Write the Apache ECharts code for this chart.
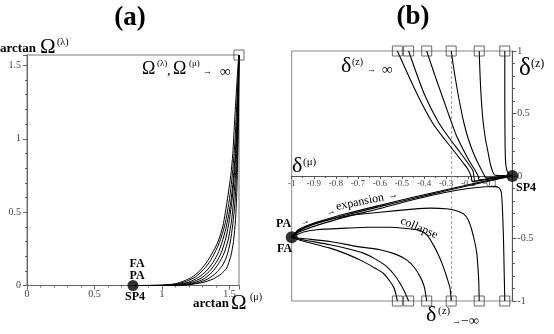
<!DOCTYPE html>
<html><head><meta charset="utf-8">
<script src="https://cdn.jsdelivr.net/npm/echarts@6/dist/echarts.min.js"></script>
<style>html,body{margin:0;padding:0;background:#fff}#c{width:554px;height:334px}</style>
</head><body><div id="c"></div>
<script>
// ---------- Panel (a) data: [arctan Ω(μ), arctan Ω(λ)] ----------
const HALF_PI = 1.5708;
const aFixedPoint = [[0.785, 0]];
const aInfinityPoint = [[HALF_PI, HALF_PI]];
const aCurve1 = [[0.785,0],[0.95,0],[1.0,0.002],[1.1,0.012],[1.16,0.03],[1.22,0.055],[1.28,0.1],[1.34,0.17],[1.39,0.25],[1.42,0.31],[1.45,0.4],[1.47,0.5],[1.49,0.62],[1.51,0.75],[1.525,0.9],[1.537,1.1],[1.55,1.3],[1.562,1.48],[1.5708,1.5708]];
const aCurve2 = [[0.785,0],[1.0,0.001],[1.1,0.009],[1.18,0.028],[1.25,0.06],[1.31,0.11],[1.36,0.17],[1.41,0.26],[1.44,0.33],[1.47,0.43],[1.49,0.53],[1.51,0.66],[1.525,0.79],[1.54,0.97],[1.55,1.15],[1.56,1.35],[1.5708,1.5708]];
const aCurve3 = [[0.785,0],[1.03,0.001],[1.12,0.008],[1.2,0.024],[1.27,0.055],[1.33,0.1],[1.38,0.16],[1.42,0.23],[1.46,0.34],[1.49,0.46],[1.51,0.57],[1.525,0.69],[1.54,0.86],[1.551,1.03],[1.559,1.2],[1.565,1.38],[1.5708,1.5708]];
const aCurve4 = [[0.785,0],[1.05,0.001],[1.14,0.007],[1.22,0.022],[1.29,0.05],[1.35,0.095],[1.4,0.155],[1.44,0.225],[1.475,0.33],[1.5,0.45],[1.52,0.59],[1.535,0.74],[1.547,0.9],[1.555,1.06],[1.562,1.24],[1.567,1.4],[1.5708,1.5708]];
const aCurve5 = [[0.785,0],[1.07,0.001],[1.16,0.006],[1.24,0.02],[1.31,0.045],[1.37,0.09],[1.42,0.15],[1.46,0.22],[1.49,0.31],[1.515,0.44],[1.53,0.57],[1.543,0.73],[1.553,0.9],[1.56,1.08],[1.565,1.26],[1.568,1.42],[1.5708,1.5708]];
const aCurve6 = [[0.785,0],[1.09,0.001],[1.18,0.006],[1.27,0.02],[1.34,0.045],[1.4,0.085],[1.45,0.14],[1.48,0.2],[1.505,0.29],[1.525,0.42],[1.54,0.56],[1.55,0.72],[1.558,0.9],[1.563,1.08],[1.567,1.27],[1.5695,1.43],[1.5708,1.5708]];
const aCurve7 = [[0.785,0],[1.1,0.001],[1.2,0.006],[1.3,0.02],[1.38,0.045],[1.44,0.08],[1.48,0.12],[1.51,0.2],[1.53,0.3],[1.545,0.45],[1.553,0.6],[1.558,0.75],[1.563,0.95],[1.567,1.15],[1.569,1.35],[1.5708,1.5708]];
const aCurves = [aCurve1, aCurve2, aCurve3, aCurve4, aCurve5, aCurve6, aCurve7];

// ---------- Panel (b) data: [δ(μ), δ(z)] ----------
const bEndX = [-0.521, -0.470, -0.388, -0.277, -0.150, -0.034];
const bTopY = 1;
const bBottomY = -1;
const bFA = [[-1, -0.49]];
const bSP4 = [[0, 0]];
const bDashedX = -0.275;
const bTop1 = [[-0.521,1],[-0.43,0.65],[-0.36,0.42],[-0.305,0.29],[-0.26,0.19],[-0.225,0.11],[-0.2,0.05],[-0.187,0.0],[-0.18,-0.045],[-0.12,-0.028],[-0.06,-0.013],[0,0]];
const bTop2 = [[-0.470,1],[-0.40,0.66],[-0.335,0.43],[-0.28,0.29],[-0.237,0.19],[-0.2,0.1],[-0.178,0.04],[-0.168,-0.04],[-0.11,-0.024],[-0.05,-0.01],[0,0]];
const bTop3 = [[-0.388,1],[-0.35,0.8],[-0.31,0.6],[-0.28,0.45],[-0.255,0.33],[-0.225,0.22],[-0.195,0.12],[-0.17,0.05],[-0.155,0.0],[-0.15,-0.03],[-0.09,-0.018],[-0.04,-0.007],[0,0]];
const bTop4 = [[-0.277,1],[-0.26,0.8],[-0.24,0.6],[-0.22,0.43],[-0.2,0.3],[-0.18,0.2],[-0.16,0.12],[-0.14,0.05],[-0.128,0.01],[-0.12,-0.015],[-0.06,-0.007],[0,0]];
const bTop5 = [[-0.150,1],[-0.146,0.8],[-0.14,0.6],[-0.132,0.43],[-0.122,0.3],[-0.11,0.19],[-0.1,0.1],[-0.09,0.04],[-0.08,0.008],[-0.04,0.003],[0,0]];
const bTop6 = [[-0.034,1],[-0.034,0.6],[-0.033,0.3],[-0.031,0.13],[-0.026,0.055],[-0.016,0.016],[0,0]];
const bExpansion1 = [[-1,-0.49],[-0.97,-0.43],[-0.92,-0.39],[-0.85,-0.35],[-0.75,-0.3],[-0.6,-0.235],[-0.45,-0.17],[-0.3,-0.11],[-0.2,-0.07],[-0.1,-0.033],[0,0]];
const bExpansion2 = [[-1,-0.49],[-0.97,-0.44],[-0.92,-0.4],[-0.85,-0.36],[-0.75,-0.31],[-0.6,-0.245],[-0.45,-0.18],[-0.3,-0.118],[-0.2,-0.078],[-0.1,-0.038],[0,0]];
const bDown6 = [[-1,-0.49],[-0.97,-0.45],[-0.92,-0.415],[-0.85,-0.375],[-0.75,-0.325],[-0.6,-0.26],[-0.45,-0.19],[-0.3,-0.13],[-0.2,-0.1],[-0.12,-0.086],[-0.08,-0.085],[-0.06,-0.095],[-0.05,-0.13],[-0.045,-0.25],[-0.04,-0.5],[-0.037,-0.75],[-0.034,-1]];
const bDown5 = [[-1,-0.49],[-0.95,-0.42],[-0.88,-0.37],[-0.75,-0.32],[-0.6,-0.29],[-0.45,-0.265],[-0.373,-0.257],[-0.3,-0.262],[-0.25,-0.28],[-0.22,-0.305],[-0.2,-0.35],[-0.184,-0.43],[-0.17,-0.53],[-0.161,-0.617],[-0.155,-0.75],[-0.152,-0.85],[-0.150,-1]];
const bDown4 = [[-1,-0.49],[-0.95,-0.45],[-0.887,-0.43],[-0.751,-0.417],[-0.65,-0.41],[-0.554,-0.41],[-0.48,-0.42],[-0.419,-0.435],[-0.385,-0.475],[-0.358,-0.551],[-0.335,-0.63],[-0.313,-0.725],[-0.295,-0.82],[-0.282,-0.9],[-0.277,-1]];
const bDown3 = [[-1,-0.49],[-0.95,-0.5],[-0.826,-0.524],[-0.7,-0.565],[-0.6,-0.59],[-0.53,-0.625],[-0.479,-0.671],[-0.445,-0.73],[-0.418,-0.805],[-0.4,-0.88],[-0.388,-1]];
const bDown2 = [[-1,-0.49],[-0.95,-0.51],[-0.826,-0.55],[-0.75,-0.58],[-0.675,-0.617],[-0.62,-0.665],[-0.569,-0.725],[-0.535,-0.79],[-0.509,-0.858],[-0.49,-0.92],[-0.470,-1]];
const bDown1 = [[-1,-0.49],[-0.95,-0.52],[-0.826,-0.577],[-0.75,-0.625],[-0.675,-0.685],[-0.62,-0.74],[-0.585,-0.778],[-0.56,-0.83],[-0.539,-0.885],[-0.53,-0.93],[-0.521,-1]];
const bCurves = [bTop1,bTop2,bTop3,bTop4,bTop5,bTop6,bExpansion1,bExpansion2,bDown6,bDown5,bDown4,bDown3,bDown2,bDown1];

// ---------- chart ----------
const SERIF = '"Liberation Serif", "DejaVu Serif", serif';
const chart = echarts.init(document.getElementById('c'), null, {renderer: 'canvas'});

function fmt(v){ const r = Math.round(v*10)/10; return String(r); }

function lineSeries(data, xi, w){
  return {type:'line', xAxisIndex:xi, yAxisIndex:xi, data:data, showSymbol:false, smooth:0.25,
    silent:true, animation:false, lineStyle:{color:'#000', width:w}, z:3};
}

const series = [];
aCurves.forEach(c => series.push(lineSeries(c, 0, 1)));
bCurves.forEach(c => series.push(lineSeries(c, 1, 1.1)));
// dashed line
series.push({type:'line', xAxisIndex:1, yAxisIndex:1, data:[[bDashedX,bTopY],[bDashedX,bBottomY]], showSymbol:false,
  silent:true, animation:false, lineStyle:{color:'#999', width:1, type:[3,2]}, z:2});
// squares
const sq = {symbol:'rect', symbolSize:10, itemStyle:{color:'rgba(255,255,255,0)', borderColor:'#444', borderWidth:1}};
series.push(Object.assign({type:'scatter', xAxisIndex:0, yAxisIndex:0, data:aInfinityPoint, silent:true, animation:false, z:5}, sq));
series.push(Object.assign({type:'scatter', xAxisIndex:1, yAxisIndex:1, data:bEndX.map(x=>[x,bTopY]), silent:true, animation:false, z:5}, sq));
series.push(Object.assign({type:'scatter', xAxisIndex:1, yAxisIndex:1, data:bEndX.map(x=>[x,bBottomY]), silent:true, animation:false, z:5}, sq));
// dots
series.push({type:'scatter', xAxisIndex:0, yAxisIndex:0, data:aFixedPoint, symbolSize:11, itemStyle:{color:'#000'}, silent:true, animation:false, z:6});
series.push({type:'scatter', xAxisIndex:1, yAxisIndex:1, data:bFA.concat(bSP4), symbolSize:12, itemStyle:{color:'#000'}, silent:true, animation:false, z:6});

const axisCommon = {
  axisLine:{show:true, onZero:false, lineStyle:{color:'#666', width:1}},
  splitLine:{show:false},
  axisTick:{show:true, length:4, lineStyle:{color:'#666'}},
  minorTick:{show:true, splitNumber:5, length:2, lineStyle:{color:'#666'}},
  axisLabel:{fontFamily:SERIF, fontSize:10, color:'#444', formatter:fmt, showMaxLabel:false}
};

function T(x, y, text, size, opt){
  opt = opt || {};
  return {type:'text', x:x, y:y, rotation:opt.rot||0, silent:true, z:10,
    style:{text:text, fill:opt.color||'#000', font:(opt.bold?'bold ':'') + (opt.italic?'italic ':'') + size + 'px ' + SERIF,
      align:opt.align||'left', verticalAlign:'middle'}};
}

const graphics = [
  T(130, 18, '(a)', 27, {bold:true, align:'center'}),
  T(413, 17, '(b)', 27, {bold:true, align:'center'}),
  // panel a y-name
  T(0, 48.5, 'arctan', 13, {bold:true}),
  T(40, 47, 'Ω', 21),
  T(57, 42, '(λ)', 10),
  // panel a x-name
  T(193, 304, 'arctan', 13, {bold:true}),
  T(231, 303, 'Ω', 21),
  T(250, 297, '(μ)', 10),
  // Ω(λ), Ω(μ) → ∞
  T(142, 69, 'Ω', 18),
  T(157, 64, '(λ)', 9),
  T(167, 71, ',', 14),
  T(173, 69, 'Ω', 18),
  T(189, 64, '(μ)', 9),
  T(203, 72, '→', 9),
  T(220, 72, '∞', 15),
  // panel a point labels
  T(137, 264, 'FA', 12, {bold:true, align:'center'}),
  T(137, 276, 'PA', 12, {bold:true, align:'center'}),
  T(135, 297, 'SP4', 12, {bold:true, align:'center'}),
  // panel b labels
  T(341, 66, 'δ', 22),
  T(352, 62, '(z)', 10),
  T(367, 70, '→', 9),
  T(382, 70, '∞', 15),
  T(519, 68.5, 'δ', 25),
  T(531, 64, '(z)', 12),
  T(292, 166.5, 'δ', 22),
  T(303, 162, '(μ)', 11),
  T(426, 315.5, 'δ', 22),
  T(438, 311.5, '(z)', 11),
  T(452, 321.5, '→', 9),
  T(461, 321.5, '−∞', 14),
  T(283.5, 224, 'PA', 12, {bold:true, align:'center'}),
  T(284.5, 249, 'FA', 12, {bold:true, align:'center'}),
  T(526, 188, 'SP4', 12, {bold:true, align:'center'}),
  T(360, 202, 'expansion', 12, {align:'center', rot:0.2}),
  T(393, 195.5, '→', 10, {align:'center', rot:0.2}),
  T(331, 212, '→', 9, {align:'center', rot:0.3}),
  T(305, 222, '→', 9, {align:'center', rot:0.45}),
  T(419, 228, 'collapse', 12, {align:'center', rot:-0.4})
];

const option = {
  backgroundColor:'#fff',
  animation:false,
  grid:[
    {left:27, top:55, width:212, height:230.5, show:true, borderColor:'#777', borderWidth:1, backgroundColor:'transparent'},
    {left:291.7, top:51, width:220.6, height:250, show:true, borderColor:'#888', borderWidth:1, backgroundColor:'transparent'}
  ],
  xAxis:[
    Object.assign({}, axisCommon, {gridIndex:0, type:'value', min:0, max:HALF_PI, interval:0.5,
      axisLabel:Object.assign({}, axisCommon.axisLabel, {margin:4})}),
    {gridIndex:1, type:'value', position:'bottom', offset:-125, min:-1, max:0, interval:0.1,
      axisLine:{show:true, onZero:false, lineStyle:{color:'#555', width:1}},
      splitLine:{show:false},
      axisTick:{show:true, length:3, lineStyle:{color:'#555'}},
      minorTick:{show:true, splitNumber:2, length:2, lineStyle:{color:'#555'}},
      axisLabel:{fontFamily:SERIF, fontSize:9, color:'#444', margin:3,
        formatter:v => (Math.abs(v) < 1e-9 ? '' : fmt(v))}}
  ],
  yAxis:[
    Object.assign({}, axisCommon, {gridIndex:0, type:'value', min:0, max:HALF_PI, interval:0.5,
      axisLabel:Object.assign({}, axisCommon.axisLabel, {margin:6})}),
    {gridIndex:1, type:'value', position:'right', min:-1, max:1, interval:0.5,
      axisLine:{show:true, onZero:false, lineStyle:{color:'#555', width:1}},
      splitLine:{show:false},
      axisTick:{show:true, length:4, lineStyle:{color:'#555'}},
      minorTick:{show:true, splitNumber:5, length:2.5, lineStyle:{color:'#555'}},
      axisLabel:{fontFamily:SERIF, fontSize:10, color:'#444', margin:5, formatter:fmt}}
  ],
  series:series,
  graphic:graphics
};
chart.setOption(option);
</script>
</body></html>
